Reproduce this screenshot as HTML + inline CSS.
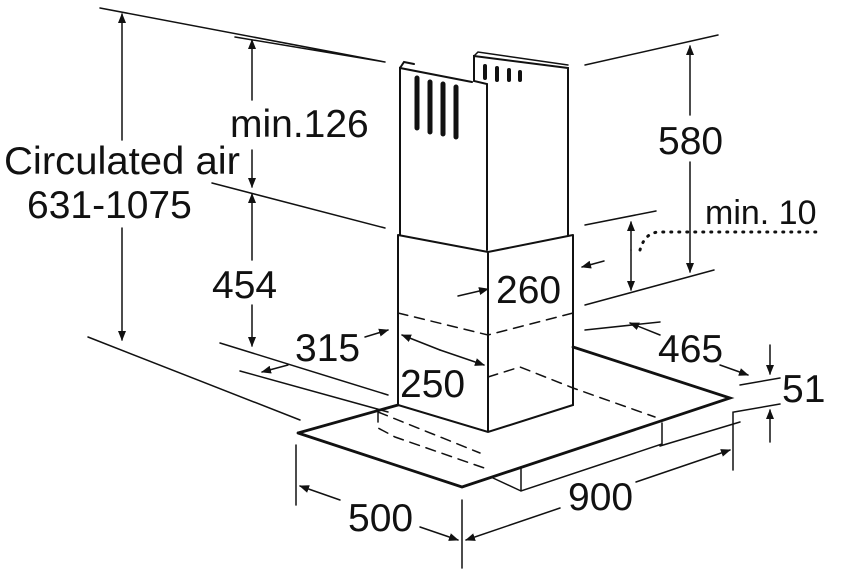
<!DOCTYPE html>
<html><head><meta charset="utf-8"><style>
html,body{margin:0;padding:0;background:#fff;}
svg{display:block}
text{font-family:"Liberation Sans",sans-serif;fill:#111;}
</style></head><body>
<svg width="850" height="574" viewBox="0 0 850 574" xmlns="http://www.w3.org/2000/svg">
<defs>
<marker id="a" markerWidth="10" markerHeight="10" refX="9" refY="5" orient="auto" markerUnits="userSpaceOnUse">
<path d="M0,1 L10,5 L0,9 Z" fill="#111"/></marker>
</defs>
<g stroke="#111" stroke-width="2" fill="none" stroke-linecap="round">
<!-- upper chimney -->
<path d="M400,235 L400,68 L472,82 M487,250 L487,84 L474,81 L474,56 L568,68 L568,235"/>
<path d="M400,68 L404,62 L414,64" />
<path d="M474,56 L478,52 L568,65" stroke-width="1.5"/>
<!-- lower chimney -->
<path d="M398,235 L488,252 L573,235 M398,235 L398,405 L488,432 L573,405 L573,235 M488,252 L488,432"/>
<!-- canopy -->
<path d="M298,433 L398,405 M298,433 L462,487 L730,398 L573,347" stroke-width="2.8"/>
<path d="M493,478 L521,491 L662,444 L662,423 M521,491 L521,467" stroke-width="1.5"/>
<!-- dashed -->
<g stroke-dasharray="10,7" stroke-width="1.5">
<path d="M398,313 L488,335 L573,313"/>
<path d="M488,377 L520,367 L573,388 L655,417"/>
<path d="M378,412 L378,428 L395,437 L490,470 M378,412 L480,453"/>
</g>
<!-- vents -->
<g stroke-width="5">
<path d="M417,78 L417,128 M430,82 L430,132 M443,84 L443,134 M456,87 L456,137"/>
<path d="M485,66 L485,78 M497,68 L497,80 M509,70 L509,80 M520,72 L520,80" stroke-width="4"/>
</g>
<!-- extension lines -->
<g stroke-width="1.5">
<path d="M100,8 L385,62 M235,37 L385,62 M88,337 L300,420 M212,183 L385,228 M220,343 L388,395 M240,371 L388,412"/>
<path d="M585,65 L718,35 M585,225 L656,211 M585,305 L714,270 M585,330 L660,322 M740,385 L780,378 M734,412 L780,404"/>
<path d="M296,445 L296,505 M462,500 L462,568 M733,412 L733,470 M660,446 L740,422"/>
</g>
<!-- dimension arrows -->
<g stroke-width="1.5">
<line x1="122" y1="140" x2="122" y2="14" marker-end="url(#a)"/>
<line x1="122" y1="228" x2="122" y2="340" marker-end="url(#a)"/>
<line x1="252" y1="100" x2="252" y2="40" marker-end="url(#a)"/>
<line x1="252" y1="150" x2="252" y2="187" marker-end="url(#a)"/>
<line x1="252" y1="260" x2="252" y2="194" marker-end="url(#a)"/>
<line x1="252" y1="305" x2="252" y2="346" marker-end="url(#a)"/>
<line x1="690" y1="115" x2="690" y2="46" marker-end="url(#a)"/>
<line x1="690" y1="162" x2="690" y2="272" marker-end="url(#a)"/>
<line x1="631" y1="250" x2="631" y2="222" marker-end="url(#a)"/>
<line x1="631" y1="250" x2="631" y2="290" marker-end="url(#a)"/>
<line x1="604" y1="261" x2="582" y2="267" marker-end="url(#a)"/>
<line x1="458" y1="296" x2="488" y2="289" marker-end="url(#a)"/>
<line x1="288" y1="365" x2="262" y2="372" marker-end="url(#a)"/>
<line x1="365" y1="337" x2="388" y2="330" marker-end="url(#a)"/>
<line x1="440" y1="350" x2="402" y2="335" marker-end="url(#a)"/>
<line x1="440" y1="350" x2="484" y2="365" marker-end="url(#a)"/>
<line x1="660" y1="335" x2="630" y2="323" marker-end="url(#a)"/>
<line x1="720" y1="365" x2="748" y2="375" marker-end="url(#a)"/>
<line x1="770" y1="345" x2="770" y2="374" marker-end="url(#a)"/>
<line x1="770" y1="442" x2="770" y2="410" marker-end="url(#a)"/>
<line x1="340" y1="500" x2="300" y2="486" marker-end="url(#a)"/>
<line x1="420" y1="527" x2="458" y2="540" marker-end="url(#a)"/>
<line x1="560" y1="508" x2="466" y2="540" marker-end="url(#a)"/>
<line x1="636" y1="482" x2="730" y2="450" marker-end="url(#a)"/>
</g>
<path d="M640,250 Q645,232 660,232 L820,232" stroke-width="3" stroke-dasharray="1,7"/>
</g>
<g font-size="39">
<text x="230" y="137">min.126</text>
<text x="4" y="174" textLength="236" lengthAdjust="spacingAndGlyphs">Circulated air</text>
<text x="27" y="218">631-1075</text>
<text x="212" y="298">454</text>
<text x="658" y="154">580</text>
<text x="705" y="224" font-size="34">min. 10</text>
<text x="496" y="303">260</text>
<text x="295" y="361">315</text>
<text x="658" y="362">465</text>
<text x="400" y="397">250</text>
<text x="782" y="402">51</text>
<text x="348" y="531">500</text>
<text x="568" y="510">900</text>
</g>
</svg>
</body></html>
